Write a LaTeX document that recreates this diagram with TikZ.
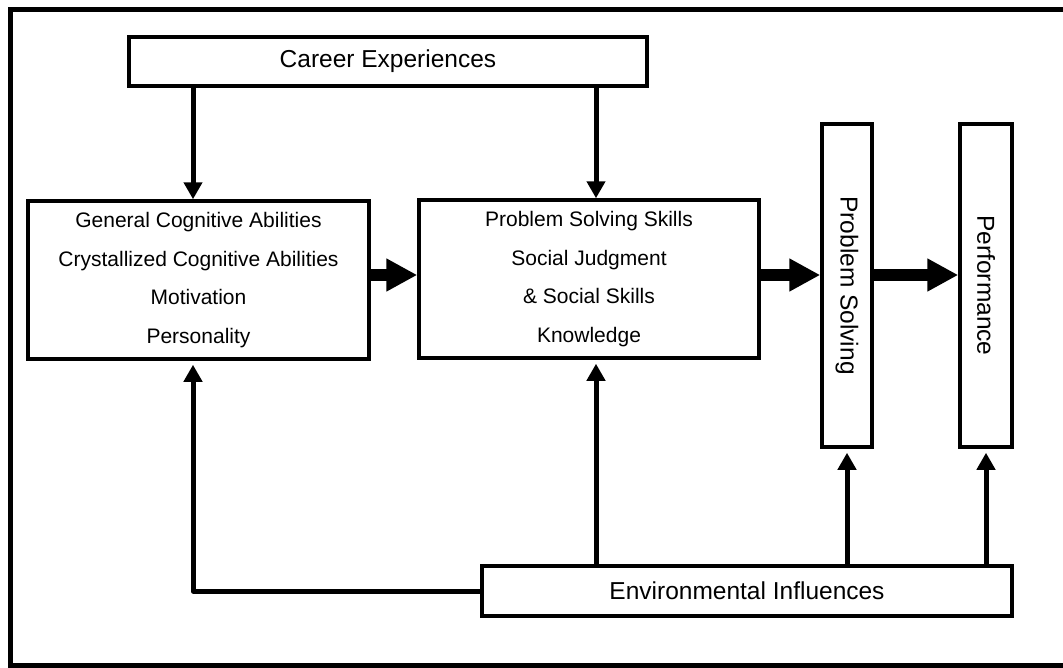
\documentclass[tikz,border=0pt]{standalone}
\usepackage{fontspec}
\setmainfont{Liberation Sans}
\usetikzlibrary{arrows.meta}
\begin{document}
\begin{tikzpicture}[x=1pt,y=-1pt,
  box/.style={draw,line width=3.5pt,inner sep=0pt,align=center},
  conn/.style={line width=5pt,line join=round,-{Triangle[length=17pt,width=18pt]}},
  bigarrow/.style={line width=12pt,-{Triangle[length=31pt,width=31pt]}},
  bigtext/.style={font=\fontsize{24.5}{29}\selectfont},
  smalltext/.style={font=\fontsize{21}{38.5}\selectfont}]
\useasboundingbox (0,0) rectangle (1063,667);
\draw[line width=5pt] (1080,9) -- (10,9) -- (10,665) -- (1080,665);

\node[box,minimum width=518pt,minimum height=49pt,bigtext] (career) at (388,61.5) {Career Experiences};
\node[box,minimum width=341pt,minimum height=158pt,smalltext] (left) at (198.5,280)
  {General Cognitive Abilities\\Crystallized Cognitive Abilities\\Motivation\\Personality};
\node[box,minimum width=340pt,minimum height=158pt,smalltext] (mid) at (589,279)
  {Problem Solving Skills\\Social Judgment\\\& Social Skills\\Knowledge};
\node[box,minimum width=50pt,minimum height=323pt] (ps) at (847,285.5) {};
\node[bigtext,rotate=-90] (pst) at (ps.center) {Problem Solving};
\node[box,minimum width=52pt,minimum height=323pt] (perf) at (986,285.5) {};
\node[bigtext,rotate=-90] (perft) at (perf.center) {Performance};
\node[box,minimum width=530pt,minimum height=50pt,bigtext] (env) at (747,591) {Environmental Influences};

\coordinate (xa) at (193,0);
\coordinate (xb) at (596,0);
\coordinate (ya) at (0,275);

\draw[conn] (career.south -| xa) -- (left.north -| xa);
\draw[conn] (career.south -| xb) -- (mid.north -| xb);

\draw[bigarrow] (left.east |- ya) -- (mid.west |- ya);
\draw[bigarrow] (mid.east |- ya) -- (ps.west |- ya);
\draw[bigarrow] (ps.east |- ya) -- (perf.west |- ya);

\draw[conn,shorten >=4pt] (env.north -| xb) -- (mid.south -| xb);
\draw[conn,shorten >=4pt] (env.north -| ps) -- (ps.south);
\draw[conn,shorten >=4pt] (env.north -| perf) -- (perf.south);
\draw[conn,shorten >=4pt] (env.west) -| (left.south -| xa);
\end{tikzpicture}
\end{document}
